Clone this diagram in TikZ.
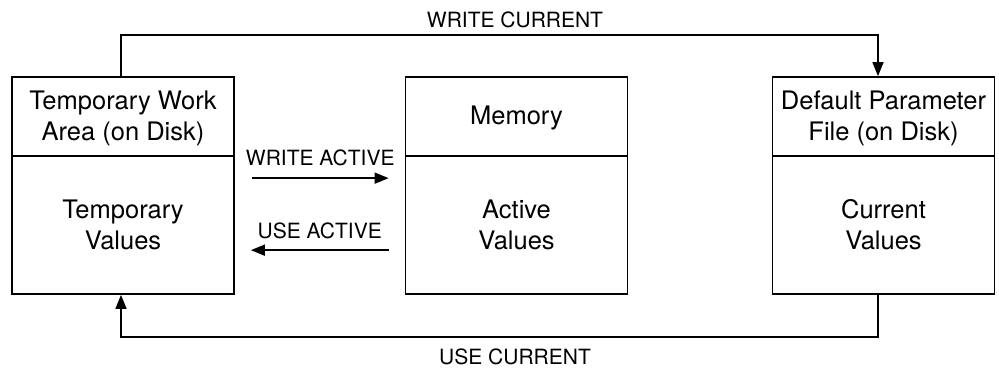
\documentclass[tikz,border=0pt]{standalone}
\usepackage{fontspec}
\setmainfont{TeX Gyre Heros}
\usetikzlibrary{arrows.meta,calc}
\tikzset{
  box/.style={draw,line width=1.7pt,minimum width=222pt,minimum height=217pt,inner sep=0pt},
  txt/.style={align=center,font=\fontsize{25.5}{31}\selectfont,inner sep=0pt},
  lbl/.style={font=\fontsize{21}{24}\selectfont,inner sep=0pt},
  conn/.style={line width=1.5pt,-{Triangle[length=14pt,width=11pt]}},
  divider/.style={line width=1.7pt}
}
\begin{document}
\begin{tikzpicture}[x=1pt,y=-1pt]
\useasboundingbox (0,0) rectangle (999,370);
% boxes
\node[box] (tw) at (123,185.5) {};
\node[box] (mem) at (516.5,185.5) {};
\node[box] (pf) at (883.5,185.5) {};
% dividers
\foreach \b in {tw,mem,pf}
  \draw[divider] ($(\b.north west)+(0,80)$) -- ($(\b.north east)+(0,80)$);
% texts
\node[txt] (twh) at (123,118) {Temporary Work\\Area (on Disk)};
\node[txt] (twv) at (123,225) {Temporary\\Values};
\node[txt] (memh) at (516.5,118) {Memory};
\node[txt] (memv) at (516.5,225) {Active\\Values};
\node[txt] (pfh) at (883.5,118) {Default Parameter\\File (on Disk)};
\node[txt] (pfv) at (883.5,225) {Current\\Values};
% top and bottom connectors
\draw[conn] ([xshift=-2]tw.north) -- ++(0,-41) -| ([xshift=-5.5]pf.north);
\draw[conn] ([xshift=-5.5]pf.south) -- ++(0,42) -| ([xshift=-2]tw.south);
\node[lbl] (wc) at (515,20) {WRITE CURRENT};
\node[lbl] (uc) at (515,357) {USE CURRENT};
% middle arrows
\draw[conn] ($(tw.north east)+(17,102)$) -- ($(mem.north west)+(-16,102)$)
  node[lbl,midway,yshift=20pt] (wa) {WRITE ACTIVE};
\draw[conn] ($(mem.north west)+(-16,174)$) -- ($(tw.north east)+(16,174)$)
  node[lbl,midway,yshift=19pt] (ua) {USE ACTIVE};
\end{tikzpicture}
\end{document}
